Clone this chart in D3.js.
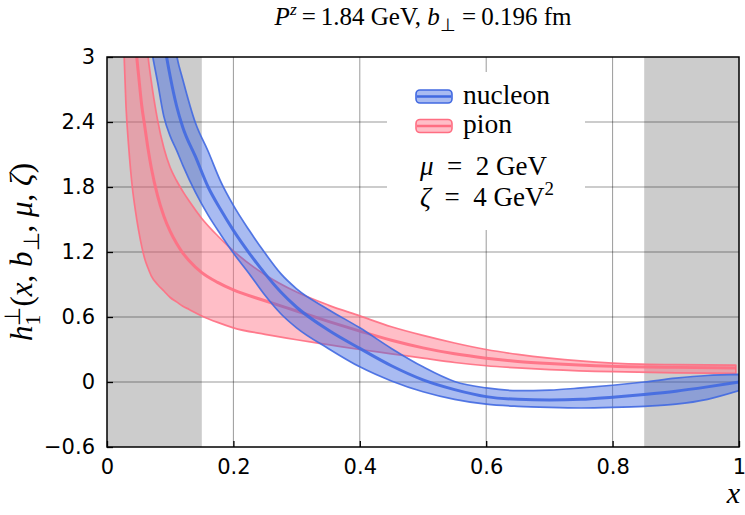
<!DOCTYPE html>
<html>
<head>
<meta charset="utf-8">
<script src="https://cdn.jsdelivr.net/npm/d3@7"></script>
<style>
  body { margin: 0; background: #fff; }
  text { white-space: pre; }
</style>
</head>
<body>
<svg id="chart" width="745" height="515"></svg>
<script>
// ---- data ----
const xTicks = [0, 0.2, 0.4, 0.6, 0.8, 1];
const xTickLabels = ["0", "0.2", "0.4", "0.6", "0.8", "1"];
const yTicks = [-0.6, 0, 0.6, 1.2, 1.8, 2.4, 3];
const yTickLabels = ["\u22120.6", "0", "0.6", "1.2", "1.8", "2.4", "3"];
const excludedRanges = [[0, 0.15], [0.85, 1]];

// nucleon: x grid, central value, lower and upper edge of the band
const nucleonX   = [0.06, 0.07, 0.08, 0.09, 0.10, 0.11, 0.12, 0.14, 0.16, 0.18, 0.20, 0.225, 0.25, 0.275, 0.30, 0.35, 0.40, 0.45, 0.50, 0.55, 0.60, 0.65, 0.70, 0.75, 0.80, 0.85, 0.90, 0.95, 1.00];
const nucleonMid = [4.60, 4.05, 3.55, 3.15, 2.82, 2.55, 2.35, 2.08, 1.80, 1.59, 1.40, 1.19, 1.00, 0.83, 0.69, 0.48, 0.31, 0.15, 0.02, -0.07, -0.135, -0.16, -0.165, -0.16, -0.14, -0.115, -0.085, -0.045, 0.00];
const nucleonLo  = [3.47, 3.08, 2.77, 2.45, 2.27, 2.14, 2.00, 1.75, 1.54, 1.36, 1.19, 1.00, 0.80, 0.63, 0.50, 0.31, 0.14, 0.01, -0.09, -0.16, -0.205, -0.225, -0.235, -0.24, -0.235, -0.225, -0.205, -0.16, -0.08];
const nucleonHi  = [5.50, 4.80, 4.30, 3.85, 3.42, 3.02, 2.79, 2.39, 2.13, 1.85, 1.63, 1.40, 1.19, 1.00, 0.86, 0.67, 0.50, 0.31, 0.14, 0.005, -0.055, -0.08, -0.075, -0.055, -0.03, 0.00, 0.035, 0.06, 0.07];

// pion: x grid, central value, lower and upper edge of the band
const pionX   = [0.02, 0.025, 0.03, 0.035, 0.04, 0.045, 0.05, 0.055, 0.06, 0.065, 0.07, 0.08, 0.09, 0.10, 0.11, 0.12, 0.13, 0.15, 0.175, 0.20, 0.25, 0.30, 0.35, 0.40, 0.45, 0.50, 0.55, 0.60, 0.65, 0.70, 0.80, 0.90, 0.995];
const pionMid = [7.00, 5.80, 4.80, 4.10, 3.50, 3.13, 2.83, 2.55, 2.35, 2.15, 1.98, 1.72, 1.53, 1.39, 1.28, 1.19, 1.12, 1.01, 0.92, 0.85, 0.75, 0.655, 0.56, 0.47, 0.385, 0.315, 0.26, 0.22, 0.19, 0.17, 0.145, 0.135, 0.13];
const pionLo  = [4.30, 3.35, 2.55, 2.12, 1.80, 1.58, 1.40, 1.25, 1.13, 1.05, 0.98, 0.90, 0.84, 0.78, 0.74, 0.70, 0.67, 0.61, 0.55, 0.50, 0.44, 0.39, 0.345, 0.30, 0.26, 0.22, 0.18, 0.15, 0.13, 0.115, 0.095, 0.085, 0.08];
const pionHi  = [9.00, 7.50, 6.30, 5.40, 4.70, 4.20, 3.85, 3.55, 3.28, 3.00, 2.78, 2.42, 2.16, 1.98, 1.86, 1.76, 1.67, 1.51, 1.35, 1.21, 0.99, 0.83, 0.71, 0.61, 0.51, 0.43, 0.36, 0.30, 0.255, 0.22, 0.175, 0.16, 0.155];

const seriesNames = ["nucleon", "pion"];

// ---- layout ----
const W = 745, H = 515;
const plot = { left: 107, right: 739, top: 57, bottom: 447 };
const serif = "'Liberation Serif', 'Times New Roman', serif";
const sans = "'DejaVu Sans', sans-serif";

const svg = d3.select("#chart");
const x = d3.scaleLinear().domain([0, 1]).range([plot.left, plot.right]);
const y = d3.scaleLinear().domain([-0.6, 3]).range([plot.bottom, plot.top]);

const styles = {
  nucleon: { line: "rgb(65,105,225)", fill: "rgba(65,105,225,0.45)" },
  pion:    { line: "rgb(255,110,130)", fill: "rgba(255,110,130,0.45)" }
};

svg.append("defs").append("clipPath").attr("id", "plot-clip")
  .append("rect")
  .attr("x", plot.left).attr("y", plot.top)
  .attr("width", plot.right - plot.left).attr("height", plot.bottom - plot.top);

// excluded x regions
svg.append("g").selectAll("rect").data(excludedRanges).join("rect")
  .attr("x", d => x(d[0])).attr("width", d => x(d[1]) - x(d[0]))
  .attr("y", plot.top).attr("height", plot.bottom - plot.top)
  .attr("fill", "#cccccc");

// grid
const grid = svg.append("g").attr("stroke", "rgba(0,0,0,0.4)").attr("stroke-width", 1);
grid.selectAll("line.gx").data(xTicks.slice(1, -1)).join("line")
  .attr("x1", d => x(d)).attr("x2", d => x(d))
  .attr("y1", plot.top).attr("y2", plot.bottom);
grid.selectAll("line.gy").data(yTicks.slice(1, -1)).join("line")
  .attr("y1", d => y(d)).attr("y2", d => y(d))
  .attr("x1", plot.left).attr("x2", plot.right);

// bands
function toRows(xs, mid, lo, hi) {
  return xs.map((v, i) => ({ x: v, mid: mid[i], lo: lo[i], hi: hi[i] }));
}
const bands = {
  nucleon: toRows(nucleonX, nucleonMid, nucleonLo, nucleonHi),
  pion: toRows(pionX, pionMid, pionLo, pionHi)
};

const curve = d3.curveMonotoneX;
const area = d3.area().x(d => x(d.x)).y0(d => y(d.lo)).y1(d => y(d.hi)).curve(curve);
const midLine = d3.line().x(d => x(d.x)).y(d => y(d.mid)).curve(curve);

const bandLayer = svg.append("g").attr("clip-path", "url(#plot-clip)");
["pion", "nucleon"].forEach(name => {
  const rows = bands[name], st = styles[name];
  bandLayer.append("path").datum(rows)
    .attr("d", area)
    .attr("fill", st.fill)
    .attr("stroke", st.line).attr("stroke-width", 1.7).attr("stroke-opacity", 0.9)
    .attr("stroke-linejoin", "round");
  bandLayer.append("path").datum(rows)
    .attr("d", midLine)
    .attr("fill", "none")
    .attr("stroke", st.line).attr("stroke-width", 3).attr("stroke-opacity", 0.9);
});

// frame
svg.append("rect")
  .attr("x", plot.left).attr("y", plot.top)
  .attr("width", plot.right - plot.left).attr("height", plot.bottom - plot.top)
  .attr("fill", "none").attr("stroke", "#000").attr("stroke-width", 1.5);

// axes with inward ticks
const xAxis = d3.axisBottom(x).tickValues(xTicks).tickSize(-6).tickPadding(12)
  .tickFormat((d, i) => xTickLabels[i]);
const gx = svg.append("g").attr("transform", `translate(0,${plot.bottom})`).call(xAxis);
const yAxis = d3.axisLeft(y).tickValues(yTicks).tickSize(-6).tickPadding(12)
  .tickFormat((d, i) => yTickLabels[i]);
const gy = svg.append("g").attr("transform", `translate(${plot.left},0)`).call(yAxis);
[gx, gy].forEach(g => {
  g.select(".domain").remove();
  g.selectAll(".tick line").attr("stroke", "#000").attr("stroke-width", 1.3);
  g.selectAll(".tick text").attr("font-family", sans).attr("font-size", 21).attr("fill", "#000");
});

// rich text: pieces laid out left to right, "stack" places a piece over the previous one
function rich(parent, parts, size, anchor) {
  const g = parent.append("g");
  let cx = 0, prevStart = 0, prevW = 0;
  parts.forEach(p => {
    const start = p.stack ? prevStart : cx;
    const t = g.append("text")
      .attr("x", start).attr("y", (p.dy || 0) * size)
      .attr("font-family", serif)
      .attr("font-size", size * (p.s || 1))
      .attr("font-style", p.it ? "italic" : "normal")
      .attr("fill", "#000")
      .text(p.t);
    const w = t.node().getComputedTextLength();
    if (p.stack) { cx = prevStart + Math.max(prevW, w); }
    else { prevStart = start; prevW = w; cx = start + w; }
  });
  const shift = anchor === "middle" ? -cx / 2 : anchor === "end" ? -cx : 0;
  g.selectAll("text").attr("x", function () { return +this.getAttribute("x") + shift; });
  return g;
}

// title
const title = rich(svg, [
  { t: "P", it: true },
  { t: "z", it: true, s: 0.7, dy: -0.42 },
  { t: "\u2009=\u20091.84 GeV, " },
  { t: "b", it: true },
  { t: "\u22A5", s: 0.7, dy: 0.22 },
  { t: " =\u20090.196 fm" }
], 25, "middle");
title.attr("transform", `translate(${(plot.left + plot.right) / 2},25)`);

// y axis label
const ylab = rich(svg, [
  { t: "h", it: true },
  { t: "\u22A5", s: 0.7, dy: -0.4 },
  { t: "1", s: 0.7, dy: 0.25, stack: true },
  { t: "(" },
  { t: "x", it: true },
  { t: ", " },
  { t: "b", it: true },
  { t: "\u22A5", s: 0.7, dy: 0.22 },
  { t: ", " },
  { t: "\u03BC", it: true },
  { t: ", " },
  { t: "\u03B6", it: true },
  { t: ")" }
], 31, "middle");
ylab.attr("transform", `translate(32,${(plot.top + plot.bottom) / 2}) rotate(-90)`);

// x axis label
svg.append("text")
  .attr("x", plot.right + 1).attr("y", 503)
  .attr("text-anchor", "end")
  .attr("font-family", serif).attr("font-style", "italic").attr("font-size", 30)
  .text("x");

// legend
const legend = svg.append("g");
legend.append("rect")
  .attr("x", 387).attr("y", 72).attr("width", 198).attr("height", 158)
  .attr("rx", 4).attr("fill", "#fff");
seriesNames.forEach((name, i) => {
  const st = styles[name];
  const top = 90 + i * 29.5;
  legend.append("rect")
    .attr("x", 416).attr("y", top).attr("width", 36).attr("height", 13)
    .attr("rx", 4)
    .attr("fill", st.fill).attr("stroke", st.line).attr("stroke-width", 1.6);
  legend.append("line")
    .attr("x1", 417).attr("x2", 451).attr("y1", top + 6.5).attr("y2", top + 6.5)
    .attr("stroke", st.line).attr("stroke-width", 2.4);
  legend.append("text")
    .attr("x", 463).attr("y", top + 13.5)
    .attr("font-family", serif).attr("font-size", 27.5)
    .text(name);
});
const mu = rich(legend, [
  { t: "\u03BC", it: true },
  { t: "\u2002=\u20022 GeV" }
], 27, "start");
mu.attr("transform", "translate(420,175)");
const zeta = rich(legend, [
  { t: "\u03B6", it: true },
  { t: "\u2002=\u20024 GeV" },
  { t: "2", s: 0.7, dy: -0.42 }
], 27, "start");
zeta.attr("transform", "translate(420,206)");
</script>
</body>
</html>
